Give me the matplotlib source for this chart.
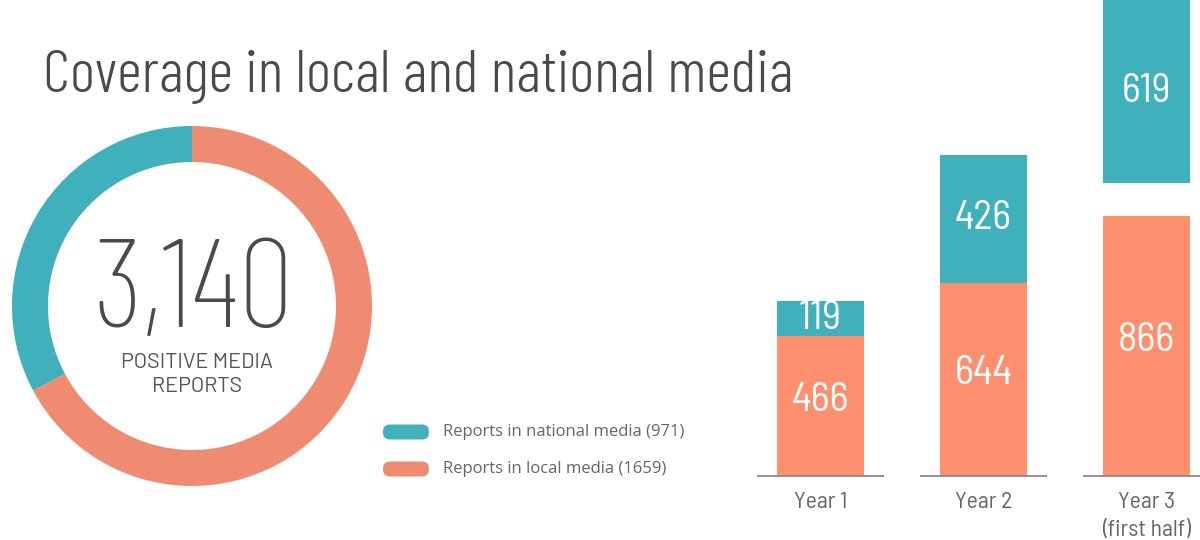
import matplotlib
matplotlib.use('Agg')
import numpy as np
from matplotlib import pyplot as plt
from matplotlib.patches import FancyBboxPatch

# data
years = ['Year 1', 'Year 2', 'Year 3']
year_notes = ['', '', '(first half)']
local_reports = [466, 644, 866]
national_reports = [119, 426, 619]
total_reports = '3,140'
legend_labels = ['Reports in national media (971)', 'Reports in local media (1659)']
# share of the ring as drawn (national arc is about 118 degrees)
donut_values = [1030, 2110]

TEAL = '#40b0bc'
ORANGE_BAR = '#fe8f6f'
ORANGE_RING = '#ee8b71'
GREY = '#555555'
COND = 'Barlow Semi Condensed'

W, H = 1200, 540
fig = plt.figure(figsize=(W / 100, H / 100), dpi=100)


def px_axes(x0, y0, x1, y1):
  """ axes from pixel box (top-left origin) """
  return fig.add_axes([x0 / W, 1 - y1 / H, (x1 - x0) / W, (y1 - y0) / H])


# overlay for title and legend, in pixels
over = px_axes(0, 0, W, H)
over.set_xlim(0, W)
over.set_ylim(H, 0)
over.axis('off')
over.set_zorder(5)

over.text(43, 92, 'Coverage in local and national media', family='Barlow Condensed', weight=300,
          fontsize=44, color='#4a4a4a', va='baseline', ha='left')

for i, (lab, col) in enumerate(zip(legend_labels, [TEAL, ORANGE_RING])):
  yc = 432 + 37 * i
  over.add_patch(FancyBboxPatch((387, yc - 3.5), 38, 7, boxstyle='round,pad=4,rounding_size=7',
                                fc=col, ec='none'))
  over.text(443, yc, lab, family='Open Sans', fontsize=12, color='#666666', va='center', ha='left')

# donut: center (192, 306), radius 180 px
R = 180
dax = px_axes(192 - R, 306 - R, 192 + R, 306 + R)
dax.pie(donut_values, colors=[TEAL, ORANGE_RING], startangle=90, counterclock=True,
        radius=1, wedgeprops=dict(width=0.2, edgecolor='none'))
dax.set_xlim(-1, 1)
dax.set_ylim(-1, 1)
dax.set_aspect('equal')
dax.axis('off')
dax.text(0.01, -0.117, total_reports, family='Barlow Condensed', weight=250, fontsize=90,
         color='#4a4a4a', ha='center', va='baseline')
dax.text(0.03, -0.344, 'POSITIVE MEDIA', family='Barlow', fontsize=15.5, color=GREY,
         ha='center', va='baseline')
dax.text(0.03, -0.478, 'REPORTS', family='Barlow', fontsize=15.5, color=GREY,
         ha='center', va='baseline')

# stacked bars: baseline at y=476 px, 0.3 px per report
bax = px_axes(740, 0, W, 476)
x = np.arange(len(years))
bw = 0.534
gap = [0, 0, 110]   # year 3 national block is drawn lifted off the local block
bottoms = np.array(local_reports) + np.array(gap)
bax.bar(x, local_reports, width=bw, color=ORANGE_BAR, edgecolor='none')
bax.bar(x, national_reports, width=bw, bottom=bottoms, color=TEAL, edgecolor='none')
bax.set_xlim(-0.494, 2.328)
bax.set_ylim(0, 476 / 0.3)
bax.axis('off')
bax.hlines(np.zeros(len(x)), x - 0.39, x + 0.39, color='#8a8a8a', lw=1.3, clip_on=False)

top = 476 / 0.3
for i in range(len(years)):
  bax.annotate(str(local_reports[i]), (x[i], local_reports[i] / 2), xytext=(0, 4),
               textcoords='offset points', ha='center', va='center', family=COND,
               fontsize=29.5, color='white')
  seg_top = min(bottoms[i] + national_reports[i], top)
  bax.annotate(str(national_reports[i]), (x[i], (bottoms[i] + seg_top) / 2), xytext=(0, 0),
               textcoords='offset points', ha='center', va='center', family=COND,
               fontsize=29, color='white')
  bax.annotate(years[i], (x[i], 0), xytext=(0, -19), textcoords='offset points',
               ha='center', va='center', family=COND, fontsize=17, color='#666666',
               annotation_clip=False)
  if year_notes[i]:
    bax.annotate(year_notes[i], (x[i], 0), xytext=(0, -39), textcoords='offset points',
                 ha='center', va='center', family=COND, fontsize=17, color='#666666',
                 annotation_clip=False)

fig.savefig('out.png', dpi=100, facecolor='white')
